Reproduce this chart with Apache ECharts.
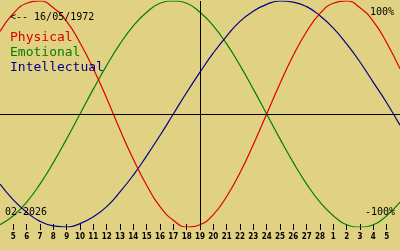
<!DOCTYPE html>
<html>
<head>
<meta charset="utf-8">
<script src="https://cdn.jsdelivr.net/npm/echarts@6/dist/echarts.min.js"></script>
<style>
html,body{margin:0;padding:0;background:#e0d183;}
#chart{width:400px;height:250px;}
</style>
</head>
<body>
<div id="chart"></div>
<script>
// Days shown: Feb 4 2026 .. Mar 6 2026 (ends are off-label edges)
const dayLabels = ['4','5','6','7','8','9','10','11','12','13','14','15','16','17','18','19','20','21','22','23','24','25','26','27','28','1','2','3','4','5','6'];
const todayLabelIndex = 15; // Feb 19

const physical = [0.73,0.89,0.98,1.00,0.94,0.82,0.63,0.40,0.14,-0.14,-0.40,-0.63,-0.82,-0.94,-1.00,-0.98,-0.89,-0.73,-0.52,-0.27,0.00,0.27,0.52,0.73,0.89,0.98,1.00,0.94,0.82,0.63,0.40];
const emotional = [-0.98,-0.90,-0.78,-0.62,-0.43,-0.22,0.00,0.22,0.43,0.62,0.78,0.90,0.98,1.00,0.98,0.90,0.78,0.62,0.43,0.22,0.00,-0.22,-0.43,-0.62,-0.78,-0.90,-0.98,-1.00,-0.98,-0.90,-0.78];
const intellectual = [-0.62,-0.76,-0.87,-0.95,-0.99,-1.00,-0.97,-0.91,-0.82,-0.69,-0.54,-0.37,-0.19,0.00,0.19,0.37,0.54,0.69,0.82,0.91,0.97,1.00,0.99,0.95,0.87,0.76,0.62,0.46,0.28,0.10,-0.10];

const seriesNames = ['Physical','Emotional','Intellectual'];
const seriesColors = ['#dd0000','#008000','#000088'];
const birthText = '<-- 16/05/1972';
const monthText = '02-2026';
const topText = '100%';
const bottomText = '-100%';

const chart = echarts.init(document.getElementById('chart'), null, {renderer:'canvas'});
const lastIdx = dayLabels.length - 1;
const showIdx = function(i){ return i > 0 && i < lastIdx; };

chart.setOption({
  backgroundColor: '#e0d183',
  animation: false,
  grid: {left: 0, right: 0, top: 1, bottom: 23, containLabel: false},
  xAxis: {
    type: 'category',
    data: dayLabels,
    boundaryGap: false,
    position: 'bottom',
    offset: -3,
    axisLine: {show: false, onZero: false},
    axisTick: {show: true, length: 6, interval: function(i){ return showIdx(i); }, lineStyle: {color: '#000', width: 1}},
    axisLabel: {
      show: true,
      interval: function(i){ return showIdx(i); },
      margin: 9,
      color: '#000',
      fontSize: 8,
      fontWeight: 'bold',
      fontFamily: '"Liberation Sans Narrow", "DejaVu Sans Condensed", sans-serif'
    },
    splitLine: {show: false}
  },
  yAxis: {
    type: 'value', min: -1, max: 1, interval: 1,
    show: false,
    splitLine: {show: false}
  },
  series: [
    {
      name: seriesNames[0], type: 'line', data: physical,
      smooth: true, showSymbol: false, lineStyle: {color: seriesColors[0], width: 1.2},
      itemStyle: {color: seriesColors[0]},
      markLine: {
        silent: true, symbol: 'none', label: {show: false},
        lineStyle: {color: '#000', width: 1, type: 'solid'},
        data: [{yAxis: 0}, {xAxis: todayLabelIndex}]
      },
      z: 3
    },
    {
      name: seriesNames[1], type: 'line', data: emotional,
      smooth: true, showSymbol: false, lineStyle: {color: seriesColors[1], width: 1.2},
      itemStyle: {color: seriesColors[1]}, z: 2
    },
    {
      name: seriesNames[2], type: 'line', data: intellectual,
      smooth: true, showSymbol: false, lineStyle: {color: seriesColors[2], width: 1.2},
      itemStyle: {color: seriesColors[2]}, z: 2
    }
  ],
  graphic: [
    {type:'text', x:10, y:17, z:10, style:{text: birthText, fill:'#000', font:'10px "DejaVu Sans Mono"', align:'left', verticalAlign:'middle'}},
    {type:'text', x:10, y:38, z:10, style:{text: seriesNames[0], fill: seriesColors[0], font:'13px "DejaVu Sans Mono"', align:'left', verticalAlign:'middle'}},
    {type:'text', x:10, y:53, z:10, style:{text: seriesNames[1], fill: seriesColors[1], font:'13px "DejaVu Sans Mono"', align:'left', verticalAlign:'middle'}},
    {type:'text', x:10, y:68, z:10, style:{text: seriesNames[2], fill: seriesColors[2], font:'13px "DejaVu Sans Mono"', align:'left', verticalAlign:'middle'}},
    {type:'text', x:394, y:12, z:10, style:{text: topText, fill:'#000', font:'10px "DejaVu Sans Mono"', align:'right', verticalAlign:'middle'}},
    {type:'text', x:395, y:212, z:10, style:{text: bottomText, fill:'#000', font:'10px "DejaVu Sans Mono"', align:'right', verticalAlign:'middle'}},
    {type:'text', x:5, y:212, z:10, style:{text: monthText, fill:'#000', font:'10px "DejaVu Sans Mono"', align:'left', verticalAlign:'middle'}}
  ]
});
</script>
</body>
</html>
